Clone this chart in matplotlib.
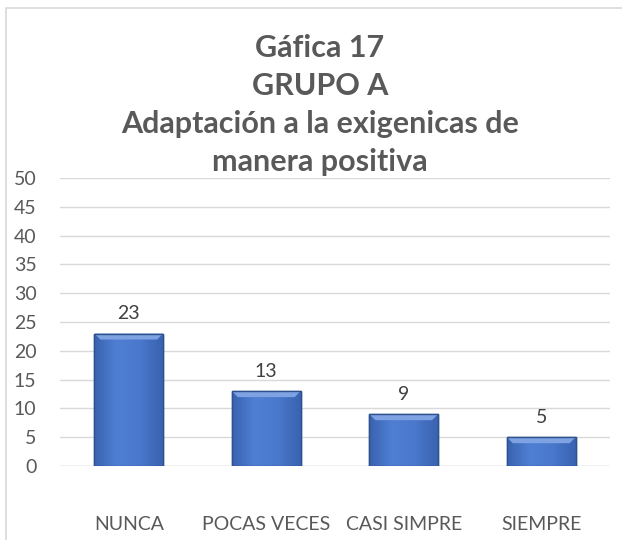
import numpy as np
import matplotlib
matplotlib.use("Agg")
import matplotlib.pyplot as plt
from matplotlib.patches import Rectangle, Polygon
from matplotlib.colors import LinearSegmentedColormap

plt.rcParams['font.family'] = ['Lato', 'DejaVu Sans']

categories = ["NUNCA", "POCAS VECES", "CASI SIMPRE", "SIEMPRE"]
values = [23, 13, 9, 5]
title_lines = ["Gáfica 17", "GRUPO A", "Adaptación a la exigenicas de", "manera positiva"]
yticks = list(range(0, 51, 5))

text_color = "#595959"
grid_color = "#d9d9d9"

fig = plt.figure(figsize=(6.22, 5.4), dpi=100)
ax = fig.add_axes([60/622, 74/540, 550/622, 288/540])

# light outer border of the chart area
fig.patches.append(Rectangle((6/622, -0.1), 1.2, 1 - 8/540 + 0.1, transform=fig.transFigure,
                             fill=False, edgecolor="#d9d9d9", linewidth=1.2))

x = np.arange(len(categories))
bw = 0.5
bars = ax.bar(x, values, width=bw, color="#4472c4", edgecolor="#2f528f", linewidth=1.0, zorder=3)

ax.set_xlim(-0.5, len(categories) - 0.5)
ax.set_ylim(0, 50)

# size of one pixel in data units, for the bevel at the top of each bar
px_x = (len(categories)) / 550
px_y = 50 / 288
bev = 6

cmap = LinearSegmentedColormap.from_list("g", ["#3a63b0", "#4f7fd4", "#4a78cc", "#3a63b0"])
grad = np.linspace(0, 1, 64).reshape(1, -1)
for b in bars:
    x0, x1, h = b.get_x(), b.get_x() + b.get_width(), b.get_height()
    im = ax.imshow(grad, extent=[x0, x1, 0, h], aspect="auto", cmap=cmap, zorder=3.5)
    im.set_clip_path(b)
    ax.add_patch(Polygon([(x0, h), (x1, h), (x1 - bev * px_x, h - bev * px_y),
                          (x0 + bev * px_x, h - bev * px_y)],
                         closed=True, facecolor="#7ea2e2", edgecolor="none", zorder=3.8))
    ax.add_patch(Rectangle((x0, 0), x1 - x0, h, fill=False,
                           edgecolor="#2f528f", linewidth=1.0, zorder=4))

for xi, v in zip(x, values):
    ax.annotate(str(v), (xi, v), xytext=(0, 8), textcoords="offset points",
                ha="center", va="bottom", fontsize=14, color="#404040")

ax.set_yticks(yticks)
ax.set_xticks(x)
ax.set_xticklabels(categories)
ax.tick_params(axis="x", length=0, pad=36, labelsize=14, labelcolor=text_color)
ax.tick_params(axis="y", length=0, pad=17, labelsize=14, labelcolor=text_color)
ax.grid(axis="y", color=grid_color, linewidth=1.0, zorder=0)
for s in ax.spines.values():
    s.set_visible(False)
ax.axhline(0, color=grid_color, linewidth=1.0, zorder=2)

for i, line in enumerate(title_lines):
    fig.text(320/622, 1 - (57 + 38 * i)/540, line, ha="center", va="baseline",
             fontsize=22, fontweight="bold", color=text_color, zorder=10)

fig.savefig("out.png", dpi=100)
